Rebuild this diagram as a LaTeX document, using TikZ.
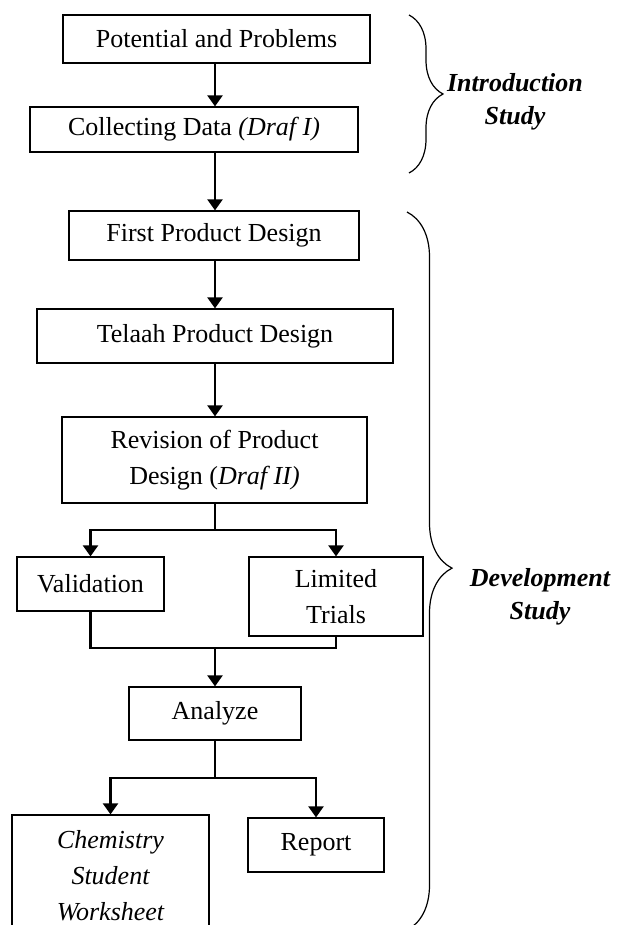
\documentclass[tikz,border=0pt]{standalone}
\usepackage{fontspec}
\setmainfont{Liberation Serif}
\usetikzlibrary{arrows.meta,decorations.pathreplacing}
\begin{document}
\begin{tikzpicture}[x=0.5pt,y=-0.5pt,
	step_node/.style={draw,line width=0.6pt,align=center,inner sep=0pt,font=\fontsize{13}{18}\selectfont},
	italic_node/.style={step_node,font=\fontsize{13}{18}\selectfont\itshape},
	study_node/.style={align=center,font=\fontsize{13}{16.5}\selectfont\bfseries\itshape},
	flow_line/.style={line width=1.1pt},
	flow_arrow/.style={line width=1.1pt,-{Triangle[length=5.5pt,width=7.5pt]}},
	study_brace/.style={decorate,line width=0.6pt}]
		
		\useasboundingbox (0,0) rectangle (616,925);
		\clip (0,0) rectangle (616,925);
		
		\node[step_node,minimum width=153.5pt,minimum height=24pt] (potential) at (216.5,39) {Potential and Problems};
		\node[step_node,minimum width=164pt,minimum height=22.5pt] (collect) at (194,129.5) {Collecting Data \textit{(Draf I)}};
		\node[step_node,minimum width=145pt,minimum height=24.5pt] (first) at (214,235.5) {First Product Design};
		\node[step_node,minimum width=178pt,minimum height=27pt] (telaah) at (215,336) {Telaah Product Design};
		\node[step_node,minimum width=152.5pt,minimum height=43pt] (revision) at (214.5,460) {Revision of Product\\Design (\textit{Draf II)}};
		\node[step_node,minimum width=73.5pt,minimum height=27pt] (validation) at (90.5,584) {Validation};
		\node[step_node,minimum width=87pt,minimum height=39.5pt] (trials) at (336,596.5) {Limited\\Trials};
		\node[step_node,minimum width=86pt,minimum height=26.5pt] (analyze) at (215,713.5) {Analyze};
		\node[italic_node,minimum width=98.5pt,minimum height=61pt] (worksheet) at (110.5,876) {Chemistry\\Student\\Worksheet};
		\node[step_node,minimum width=68pt,minimum height=27pt] (report) at (316,845) {Report};
		
		\coordinate (spine) at (215,0);
		\coordinate (split1) at (215,530);
		\coordinate (merge) at (215,648);
		\coordinate (split2) at (215,778);
		
		\draw[flow_arrow] (potential.south -| spine) -- (collect.north -| spine);
		\draw[flow_arrow] (collect.south -| spine) -- (first.north -| spine);
		\draw[flow_arrow] (first.south -| spine) -- (telaah.north -| spine);
		\draw[flow_arrow] (telaah.south -| spine) -- (revision.north -| spine);
		\draw[flow_line] (revision.south -| spine) -- (split1);
		\draw[flow_arrow] (split1) -| (validation.north);
		\draw[flow_arrow] (split1) -| (trials.north);
		\draw[flow_line] (validation.south) |- (merge);
		\draw[flow_line] (trials.south) |- (merge);
		\draw[flow_arrow] (merge) -- (analyze.north -| spine);
		\draw[flow_line] (analyze.south -| spine) -- (split2);
		\draw[flow_arrow] (split2) -| (worksheet.north);
		\draw[flow_arrow] (split2) -| (report.north);
		
		% braces on the right
		\coordinate (intro_top) at (409,15);
		\coordinate (intro_bottom) at (409,173);
		\coordinate (dev_top) at (407,212);
		\coordinate (dev_bottom) at (407,930);
		\draw[study_brace,decoration={brace,amplitude=17pt}] (intro_top) -- (intro_bottom);
		\draw[study_brace,decoration={brace,amplitude=22.5pt,aspect=0.496}] (dev_top) -- (dev_bottom);
		
		\node[study_node] (intro_label) at (515,102) {Introduction\\Study};
		\node[study_node] (dev_label) at (540,597) {Development\\Study};
		\end{tikzpicture}
\end{document}
